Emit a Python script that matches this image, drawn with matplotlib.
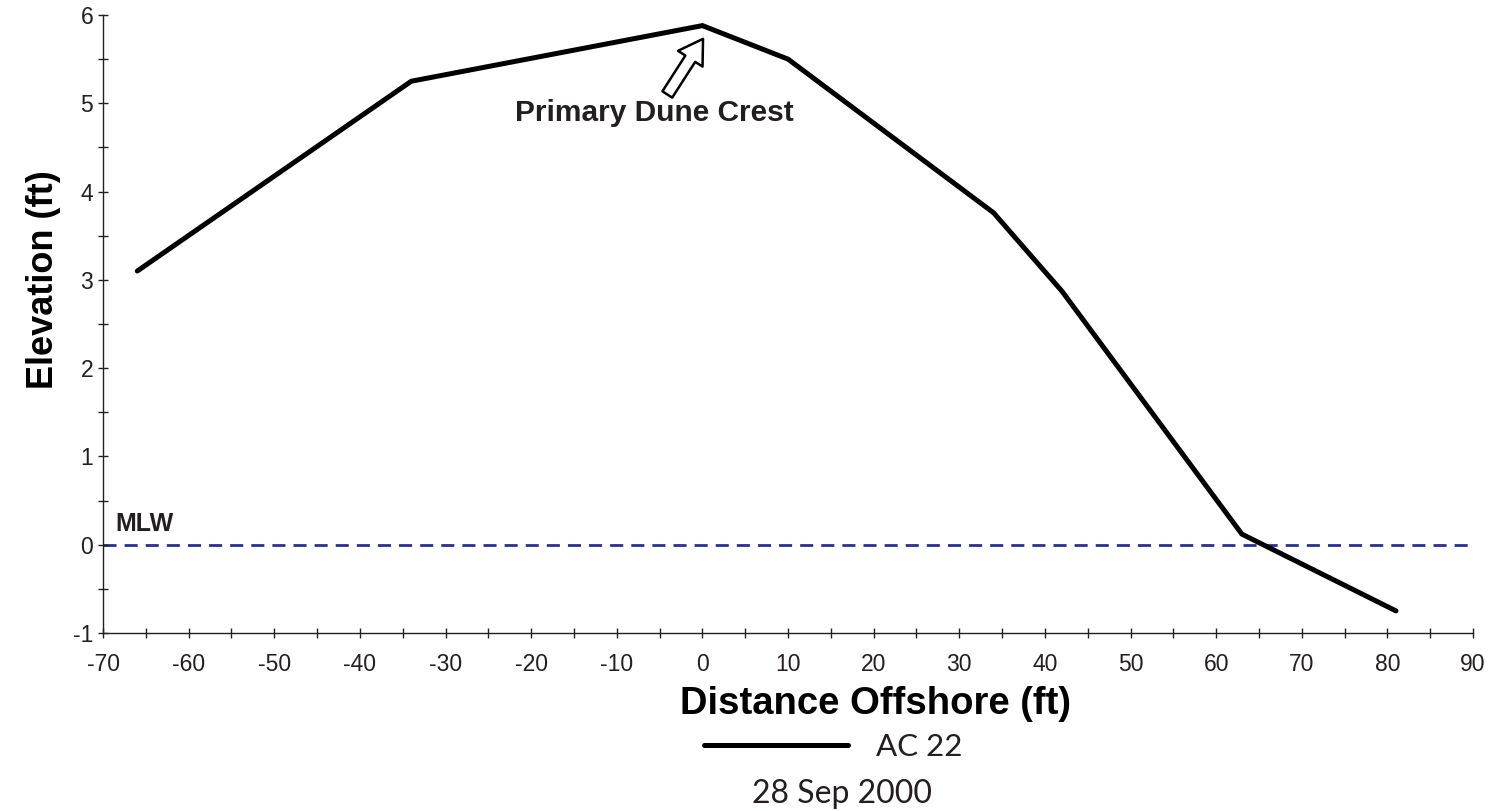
import matplotlib
matplotlib.use("Agg")
import matplotlib.pyplot as plt
from matplotlib.ticker import MultipleLocator

# profile AC 22, 28 Sep 2000
distance = [-66, -34, 0, 10, 34, 42, 63, 81]
elevation = [3.1, 5.25, 5.88, 5.5, 3.76, 2.87, 0.12, -0.75]
mlw = 0.0
profile_name = "AC 22"
survey_date = "28 Sep 2000"
crest_label = "Primary Dune Crest"

plt.rcParams["font.family"] = ["Liberation Sans", "DejaVu Sans"]
plt.rcParams["axes.unicode_minus"] = False

fig = plt.figure(figsize=(14.89, 8.11), dpi=100)
ax = fig.add_axes([0.0692, 0.2195, 0.9201, 0.762])

ax.axhline(mlw, color="#2b2f8f", linestyle=(0, (4.7, 2.9)), linewidth=2, zorder=1)
line, = ax.plot(distance, elevation, color="black", linewidth=3.6,
                solid_capstyle="round", solid_joinstyle="miter", zorder=3,
                label=profile_name)

ax.set_xlim(-70, 90)
ax.set_ylim(-1, 6)
ax.xaxis.set_major_locator(MultipleLocator(10))
ax.xaxis.set_minor_locator(MultipleLocator(5))
ax.yaxis.set_major_locator(MultipleLocator(1))
ax.yaxis.set_minor_locator(MultipleLocator(0.5))
ax.tick_params(axis="x", which="both", direction="inout", length=7, width=1,
               labelsize=16.5, pad=11, colors="#231f20")
ax.tick_params(axis="y", which="both", direction="inout", length=7, width=1,
               labelsize=16.5, pad=3.6, colors="#231f20")
for side in ("top", "right"):
    ax.spines[side].set_visible(False)
for side in ("left", "bottom"):
    ax.spines[side].set_linewidth(1)
    ax.spines[side].set_color("#231f20")

ax.set_xlabel("Distance Offshore (ft)", fontsize=27.5, fontweight="bold")
ax.set_ylabel("Elevation (ft)", fontsize=26, fontweight="bold")
ax.xaxis.set_label_coords(0.5635, -0.0858)
ax.yaxis.set_label_coords(-0.031, 0.571)

ax.text(-68.6, 0.1, "MLW", fontsize=18, fontweight="bold", color="#231f20",
        ha="left", va="bottom")

ax.annotate("", xy=(0.07, 5.73), xytext=(-4.1, 5.1),
            arrowprops=dict(arrowstyle="simple,head_length=0.85,head_width=1.05,tail_width=0.42",
                            mutation_scale=20, shrinkA=0, shrinkB=0,
                            fc="white", ec="black", lw=1.8))
ax.text(-5.65, 4.89, crest_label, fontsize=21.5, fontweight="bold",
        color="#231f20", ha="center", va="center")

leg = fig.legend(handles=[line], loc="center left", bbox_to_anchor=(0.4728, 0.0789),
                 frameon=False, handlelength=4.6, handletextpad=0.9,
                 borderpad=0, borderaxespad=0,
                 prop={"family": ["Lato", "DejaVu Sans"], "size": 22.5})
for t in leg.get_texts():
    t.set_color("#231f20")

fig.text(0.5655, 0.021, survey_date, fontsize=23, ha="center", va="center",
         color="#231f20", family=["Lato", "DejaVu Sans"])

fig.savefig("out.png", dpi=100)
